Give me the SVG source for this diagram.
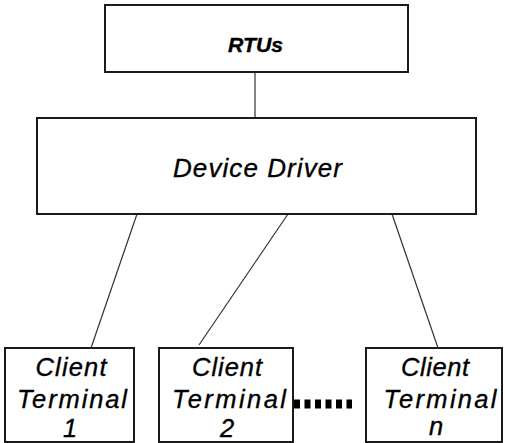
<svg xmlns="http://www.w3.org/2000/svg" width="505" height="443" viewBox="0 0 505 443">
  <style>
    .box { fill: #ffffff; stroke: #1a1a1a; stroke-width: 2; }
    .link { stroke: #333333; stroke-width: 1.2; fill: none; }
    .lbl { font-family: "Liberation Sans", Arial, sans-serif; font-style: italic; fill: #000000; stroke: #000000; stroke-width: 0.35; text-anchor: middle; }
    .big { font-size: 26px; }
    .cl { font-size: 25.5px; }
  </style>
  <rect width="505" height="443" fill="#ffffff"/>

  <g id="connectors">
    <line class="link" x1="255" y1="72" x2="255" y2="118"/>
    <line class="link" x1="137" y1="214" x2="91" y2="348"/>
    <line class="link" x1="288" y1="214" x2="199" y2="345"/>
    <line class="link" x1="392" y1="214" x2="438" y2="348"/>
    <line x1="294" y1="404" x2="352" y2="404" stroke="#000000" stroke-width="9" stroke-dasharray="6 4.5"/>
  </g>

  <g id="rtus">
    <rect class="box" x="105" y="5" width="303" height="67"/>
    <text class="lbl" x="255.5" y="52" font-size="20" font-weight="bold" stroke-width="0" textLength="55" lengthAdjust="spacingAndGlyphs">RTUs</text>
  </g>

  <g id="device-driver">
    <rect class="box" x="37" y="118" width="439" height="96"/>
    <text class="lbl big" x="257.5" y="177" textLength="169" lengthAdjust="spacing">Device Driver</text>
  </g>

  <g id="client-terminal-1">
    <rect class="box" x="5" y="348" width="129" height="94"/>
    <text class="lbl cl" x="71" y="376" textLength="71" lengthAdjust="spacing">Client</text>
    <text class="lbl cl" x="72" y="408" textLength="110" lengthAdjust="spacing">Terminal</text>
    <text class="lbl cl" x="70" y="437">1</text>
  </g>

  <g id="client-terminal-2">
    <rect class="box" x="159" y="348" width="134" height="94"/>
    <text class="lbl cl" x="227" y="376" textLength="70" lengthAdjust="spacing">Client</text>
    <text class="lbl cl" x="229" y="408" textLength="114" lengthAdjust="spacing">Terminal</text>
    <text class="lbl cl" x="227" y="437" font-style="normal">2</text>
  </g>

  <g id="client-terminal-n">
    <rect class="box" x="366" y="348" width="136" height="94"/>
    <text class="lbl cl" x="435" y="376" textLength="68" lengthAdjust="spacing">Client</text>
    <text class="lbl cl" x="440" y="408" textLength="113" lengthAdjust="spacing">Terminal</text>
    <text class="lbl cl" x="436" y="435">n</text>
  </g>
</svg>
